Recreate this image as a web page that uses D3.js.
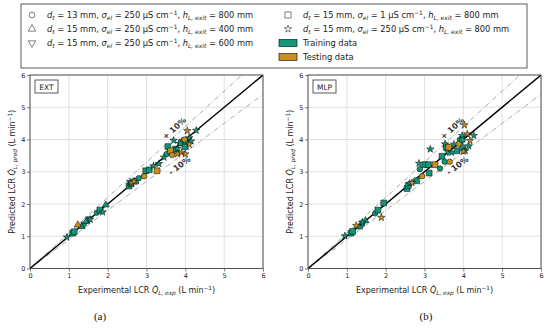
<!DOCTYPE html>
<html>
<head>
<meta charset="utf-8">
<script src="https://cdn.jsdelivr.net/npm/d3@7"></script>
<style>
  body { margin: 0; background: #fff; }
  svg { font-family: "DejaVu Sans", sans-serif; }
</style>
</head>
<body>
<svg id="chartSVG"></svg>
<script>
// values: [experimental, predicted, marker]
let extTrain = [
  [0.95,0.97,'star'],[1.10,1.10,'square'],[1.14,1.14,'square'],[1.33,1.30,'triUp'],
  [1.40,1.38,'triDown'],[1.45,1.46,'triUp'],[1.52,1.54,'triDown'],[1.55,1.52,'star'],
  [1.72,1.73,'circle'],[1.80,1.81,'square'],[1.87,1.75,'star'],[1.95,1.97,'triUp'],
  [2.55,2.56,'square'],[2.60,2.63,'square'],[2.58,2.68,'star'],[2.72,2.71,'square'],
  [2.80,2.80,'circle'],[2.98,3.03,'square'],[3.07,3.06,'square'],[3.18,3.18,'star'],
  [3.32,3.25,'star'],[3.45,3.45,'star'],[3.52,3.55,'circle'],[3.55,3.78,'square'],
  [3.62,3.62,'triDown'],[3.70,3.97,'star'],[3.75,3.70,'square'],[3.80,3.72,'star'],
  [3.85,3.88,'star'],[3.90,3.90,'square'],[3.95,3.98,'circle'],[4.00,3.78,'square'],
  [4.02,3.95,'square'],[4.10,4.05,'star'],[4.15,3.95,'star'],[4.28,4.28,'star']
];
let extTest = [
  [1.23,1.35,'triUp'],[2.62,2.65,'star'],[2.68,2.70,'star'],[2.94,2.86,'circle'],
  [3.27,3.03,'square'],[3.62,3.65,'square'],[3.66,3.52,'circle'],[3.80,3.55,'star'],
  [3.90,3.60,'star'],[4.00,3.55,'star'],[4.05,4.27,'star'],[4.10,3.85,'star'],
  [3.98,4.00,'circle']
];
let mlpTrain = [
  [0.95,1.01,'star'],[1.11,1.10,'square'],[1.15,1.15,'square'],[1.32,1.29,'triUp'],
  [1.41,1.40,'triDown'],[1.48,1.48,'triUp'],[1.40,1.43,'star'],[1.73,1.71,'circle'],
  [1.80,1.81,'square'],[1.95,2.03,'square'],[2.55,2.48,'square'],[2.58,2.57,'square'],
  [2.62,2.64,'star'],[2.80,2.72,'square'],[2.88,3.08,'circle'],[2.86,3.26,'star'],
  [3.01,3.22,'square'],[3.10,3.22,'square'],[3.12,2.96,'square'],[3.15,3.70,'star'],
  [3.40,3.10,'circle'],[3.45,3.48,'square'],[3.52,3.31,'circle'],[3.56,3.76,'square'],
  [3.53,3.86,'star'],[3.60,3.62,'triDown'],[3.70,3.60,'star'],[3.84,3.65,'square'],
  [3.76,3.85,'star'],[3.92,3.96,'square'],[3.97,4.01,'square'],[3.97,4.12,'star'],
  [3.99,3.76,'circle'],[4.14,3.80,'star'],[4.27,4.12,'star'],[4.05,3.65,'star']
];
let mlpTest = [
  [1.24,1.33,'star'],[1.89,1.58,'star'],[2.68,2.66,'star'],[2.94,2.86,'circle'],
  [3.27,3.22,'square'],[3.65,3.31,'circle'],[3.62,3.76,'square'],[3.88,3.86,'circle'],
  [4.03,4.45,'star'],[4.10,4.17,'star'],[4.17,3.96,'star'],[4.00,3.63,'star']
];

let ticks = [0, 1, 2, 3, 4, 5, 6];
let band = [1.1, 0.9];
let bandLabels = ['+ 10%', '- 10%'];

let legendShapes = ['circle', 'triUp', 'triDown', 'square', 'star'];
let legendDt = [13, 15, 15, 15, 15];
let legendSigma = [250, 250, 250, 1, 250];
let legendH = [800, 400, 600, 800, 800];
let setNames = ['Training data', 'Testing data'];

let colTrain = '#11977a';
let colTest = '#c99020';

let widthSVG = 550, heightSVG = 328;
let SVG = d3.select('svg#chartSVG').attr('width', widthSVG).attr('height', heightSVG);

let symTypes = {
  circle: [d3.symbolCircle, 24, 0],
  triUp: [d3.symbolTriangle, 22, 0],
  triDown: [d3.symbolTriangle, 22, 180],
  square: [d3.symbolSquare, 34, 0],
  star: [d3.symbolStar, 17, 0]
};

function marker(g, shape, x, y, fill, k) {
  let [type, size, rot] = symTypes[shape];
  return g.append('path')
    .attr('d', d3.symbol().type(type).size(size * (k || 1))())
    .attr('transform', `translate(${x},${y}) rotate(${rot})`)
    .style('fill', fill)
    .style('stroke', '#000')
    .style('stroke-width', 0.5);
}

// text with italic / sub / superscript pieces
function rich(g, parts, fs) {
  let t = g.append('text').style('font-size', fs + 'px').style('fill', '#222');
  let shift = 0;
  parts.forEach(([s, k]) => {
    let sub = k.includes('_'), sup = k.includes('^');
    let target = sub ? fs * 0.3 : sup ? -fs * 0.4 : 0;
    let ts = t.append('tspan').text(s).attr('dy', target - shift);
    shift = target;
    if (k.includes('i')) ts.style('font-style', 'italic');
    if (sub || sup) ts.style('font-size', (fs * 0.72) + 'px');
  });
  return t;
}

function legendParts(i) {
  return [['d','i'],['t','_i'],[` = ${legendDt[i]} mm, `,''],['σ','i'],['el','_i'],
    [` = ${legendSigma[i]} μS cm`,''],['−1','^'],[', ',''],['h','i'],['L, exit','_i'],
    [` = ${legendH[i]} mm`,'']];
}

/* legend */
let leg = SVG.append('g');
leg.append('rect')
  .attr('x', 21).attr('y', 4).attr('width', 506).attr('height', 64)
  .style('fill', '#fff').style('stroke', '#333').style('stroke-width', 0.8);

let rowY = [15, 29, 43, 57];
legendShapes.forEach((s, i) => {
  let col = i < 3 ? 0 : 1;
  let row = i < 3 ? i : i - 3;
  let mx = col ? 288 : 32;
  marker(leg, s, mx, rowY[row], '#fff', s === 'star' ? 1 : 1.1);
  rich(leg, legendParts(i), 8.3).attr('x', mx + 15).attr('y', rowY[row] + 3);
});
setNames.forEach((n, i) => {
  let y = rowY[2 + i];
  leg.append('rect')
    .attr('x', 279).attr('y', y - 3.5).attr('width', 18).attr('height', 7)
    .style('fill', i ? colTest : colTrain).style('stroke', '#000').style('stroke-width', 0.6);
  leg.append('text').text(n).attr('x', 303).attr('y', y + 3)
    .style('font-size', '8.3px').style('fill', '#222');
});

/* panels */
let panels = [
  { name: 'EXT', left: 30, right: 263, train: extTrain, test: extTest, tag: '(a)', tagX: 100 },
  { name: 'MLP', left: 308, right: 541, train: mlpTrain, test: mlpTest, tag: '(b)', tagX: 426 }
];
let yTop = 75, yBot = 268.5;

panels.forEach(p => {
  let x = d3.scaleLinear().domain([0, 6]).range([p.left, p.right]);
  let y = d3.scaleLinear().domain([0, 6]).range([yBot, yTop]);
  let g = SVG.append('g');

  // grid
  g.append('g').selectAll('line.v').data(ticks).enter().append('line')
    .attr('x1', d => x(d)).attr('x2', d => x(d)).attr('y1', yTop).attr('y2', yBot)
    .style('stroke', '#dcdcdc').style('stroke-width', 0.9);
  g.append('g').selectAll('line.h').data(ticks).enter().append('line')
    .attr('y1', d => y(d)).attr('y2', d => y(d)).attr('x1', p.left).attr('x2', p.right)
    .style('stroke', '#dcdcdc').style('stroke-width', 0.9);

  // axes
  let ax = g.append('g').attr('transform', `translate(0,${yBot})`)
    .call(d3.axisBottom(x).tickValues(ticks).tickFormat(d3.format('d')).tickSize(3).tickPadding(1.5));
  let ay = g.append('g').attr('transform', `translate(${p.left},0)`)
    .call(d3.axisLeft(y).tickValues(ticks).tickFormat(d3.format('d')).tickSize(3).tickPadding(1.5));
  [ax, ay].forEach(a => {
    a.select('.domain').remove();
    a.selectAll('line').style('stroke', '#444').style('stroke-width', 0.7);
    a.selectAll('text').style('font-size', '6.5px').style('fill', '#222')
      .style('font-family', '"DejaVu Sans", sans-serif');
  });

  // clip for lines
  let clipId = 'clip' + p.name;
  SVG.append('clipPath').attr('id', clipId).append('rect')
    .attr('x', p.left).attr('y', yTop).attr('width', p.right - p.left).attr('height', yBot - yTop);
  let lines = g.append('g').attr('clip-path', `url(#${clipId})`);

  band.forEach(b => {
    lines.append('line')
      .attr('x1', x(0)).attr('y1', y(0)).attr('x2', x(6)).attr('y2', y(6 * b))
      .style('stroke', '#aaa').style('stroke-width', 1)
      .style('stroke-dasharray', '5,2,1,2');
  });
  lines.append('line')
    .attr('x1', x(0)).attr('y1', y(0)).attr('x2', x(6)).attr('y2', y(6))
    .style('stroke', '#000').style('stroke-width', 1.4);

  // band labels
  band.forEach((b, i) => {
    let ang = -Math.atan2(y(0) - y(b), x(1) - x(0)) * 180 / Math.PI;
    let lx = i ? 3.85 : 3.72;
    let ly = i ? 3.18 : 4.34;
    g.append('text').text(bandLabels[i])
      .attr('transform', `translate(${x(lx)},${y(ly)}) rotate(${ang})`)
      .style('text-anchor', 'middle').style('dominant-baseline', 'middle')
      .style('font-size', '8px').style('font-weight', 'bold').style('fill', '#333');
  });

  // points
  let pts = g.append('g');
  p.train.forEach(d => marker(pts, d[2], x(d[0]), y(d[1]), colTrain));
  p.test.forEach(d => marker(pts, d[2], x(d[0]), y(d[1]), colTest));

  // frame
  g.append('rect')
    .attr('x', p.left).attr('y', yTop).attr('width', p.right - p.left).attr('height', yBot - yTop)
    .style('fill', 'none').style('stroke', '#444').style('stroke-width', 0.9);

  // name box
  g.append('rect').attr('x', p.left + 5).attr('y', yTop + 5).attr('width', 23).attr('height', 13)
    .style('fill', '#fff').style('stroke', '#333').style('stroke-width', 0.8);
  g.append('text').text(p.name).attr('x', p.left + 16.5).attr('y', yTop + 14.5)
    .style('text-anchor', 'middle').style('font-size', '7.5px').style('fill', '#222');

  // axis labels
  rich(g, [['Experimental LCR ',''],['Q̇','i'],['L, exp','_i'],[' (L min',''],['−1','^'],[')','']], 8)
    .attr('x', (p.left + p.right) / 2).attr('y', 293).style('text-anchor', 'middle');
  rich(g, [['Predicted LCR ',''],['Q̇','i'],['L, pred','_i'],[' (L min',''],['−1','^'],[')','']], 8)
    .attr('transform', `translate(${p.left - 15},${(yTop + yBot) / 2}) rotate(-90)`)
    .style('text-anchor', 'middle');

  g.append('text').text(p.tag).attr('x', p.tagX).attr('y', 320)
    .style('text-anchor', 'middle').style('font-family', '"Liberation Serif", serif')
    .style('font-size', '11px').style('fill', '#111');
});
</script>
</body>
</html>
